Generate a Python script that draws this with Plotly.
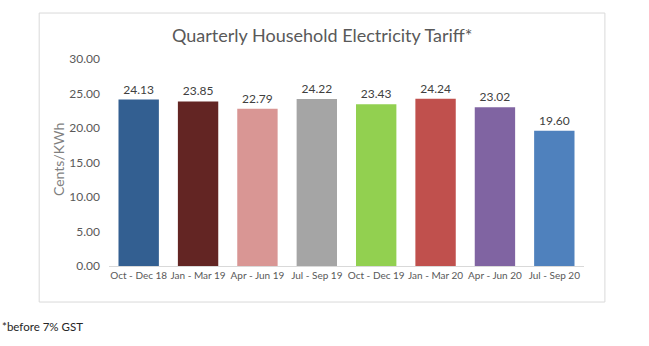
import plotly.graph_objects as go

categories = ["Oct - Dec 18", "Jan - Mar 19", "Apr - Jun 19", "Jul - Sep 19",
              "Oct - Dec 19", "Jan - Mar 20", "Apr - Jun 20", "Jul - Sep 20"]
values = [24.13, 23.85, 22.79, 24.22, 23.43, 24.24, 23.02, 19.60]
colors = ["#335F91", "#632523", "#D99694", "#A5A5A5",
          "#92D050", "#C0504D", "#8064A2", "#4F81BD"]
tick_vals = [0, 5, 10, 15, 20, 25, 30]
tick_text = ["0.00", "5.00", "10.00", "15.00", "20.00", "25.00", "30.00"]

FONT = "Lato"
GREY = "#595959"

fig = go.Figure(go.Bar(
    x=categories, y=values,
    marker=dict(color=colors, line=dict(width=0)),
    text=[f"{v:.2f}" for v in values],
    textposition="outside",
    textfont=dict(family=FONT, size=12, color="#404040"),
    cliponaxis=False,
    width=0.68,
))

fig.update_layout(
    width=649, height=346,
    margin=dict(l=109, r=65, t=59, b=80),
    paper_bgcolor="white", plot_bgcolor="white",
    showlegend=False,
    font=dict(family=FONT, color=GREY),
    xaxis=dict(showgrid=False, showline=True, linecolor="#D9D9D9", linewidth=1,
               ticks="", tickangle=0,
               tickfont=dict(family=FONT, size=10, color=GREY)),
    yaxis=dict(range=[0, 30], tickvals=tick_vals, ticktext=tick_text,
               showgrid=False, zeroline=False, showline=False, ticks="",
               ticklabelstandoff=8,
               tickfont=dict(family=FONT, size=12, color=GREY)),
    shapes=[dict(type="rect", xref="paper", yref="paper",
                 x0=-0.147, x1=1.044, y0=-0.174, y1=1.222,
                 line=dict(color="#D9D9D9", width=1), layer="below")],
    annotations=[
        dict(text="Quarterly Household Electricity Tariff*", xref="paper", yref="paper",
             x=(322 - 109) / 475, y=(266 - 35) / 207, showarrow=False,
             xanchor="center", yanchor="middle",
             font=dict(family=FONT, size=18, color=GREY)),
        dict(text="Cents/KWh", xref="paper", yref="paper",
             x=(58 - 109) / 475, y=(266 - 160) / 207, showarrow=False, textangle=-90,
             xanchor="center", yanchor="middle",
             font=dict(family=FONT, size=14, color="#7F7F7F")),
        dict(text="*before 7% GST", xref="paper", yref="paper",
             x=(0 - 109) / 475, y=(266 - 326) / 207, showarrow=False,
             xanchor="left", yanchor="middle",
             font=dict(family=FONT, size=11.5, color="#262626")),
    ],
)

fig.write_html("out.html")
